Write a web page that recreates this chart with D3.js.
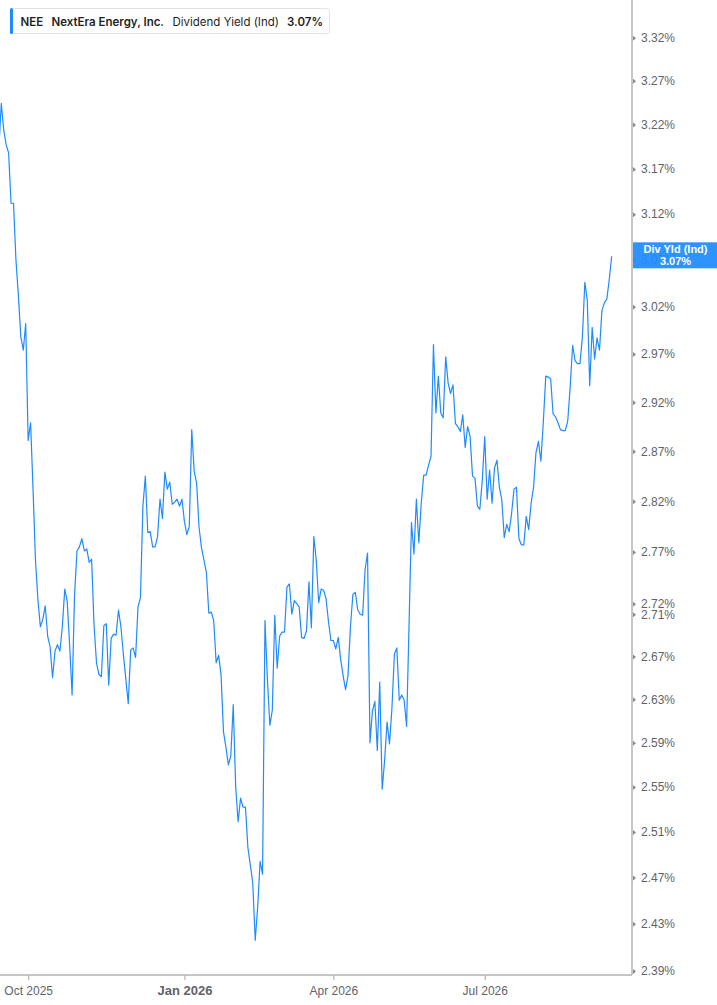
<!DOCTYPE html>
<html>
<head>
<meta charset="utf-8">
<script src="https://cdn.jsdelivr.net/npm/d3@7"></script>
<style>
  html, body { margin: 0; padding: 0; background: #fff; }
  svg { display: block; }
</style>
</head>
<body>
<svg id="chart" width="717" height="1005"></svg>
<script>
// Daily dividend yield (%), one value per trading day, mid-Sep 2025 .. mid-Sep 2026
const yieldValues = [
  3.193,3.244,3.214,3.197,3.188,3.132,3.132,3.070,3.032,2.988,
  2.974,3.002,2.881,2.899,2.832,2.762,2.724,2.698,2.705,2.718,
  2.689,2.679,2.650,2.675,2.681,2.675,2.698,2.734,2.722,2.680,
  2.634,2.728,2.771,2.775,2.783,2.771,2.773,2.760,2.763,2.699,
  2.664,2.653,2.651,2.699,2.701,2.643,2.687,2.691,2.690,2.714,
  2.698,2.672,2.649,2.626,2.676,2.678,2.669,2.717,2.726,2.815,
  2.845,2.789,2.790,2.775,2.775,2.785,2.822,2.803,2.849,2.832,
  2.839,2.817,2.819,2.822,2.815,2.822,2.800,2.787,2.795,2.892,
  2.850,2.838,2.794,2.774,2.762,2.750,2.711,2.712,2.704,2.664,
  2.671,2.653,2.600,2.586,2.570,2.578,2.625,2.550,2.519,2.540,
  2.532,2.532,2.496,2.481,2.465,2.416,2.444,2.484,2.473,2.704,
  2.648,2.606,2.620,2.709,2.659,2.689,2.693,2.693,2.736,2.739,
  2.710,2.723,2.720,2.717,2.688,2.687,2.694,2.741,2.697,2.785,
  2.762,2.721,2.734,2.733,2.725,2.703,2.685,2.685,2.677,2.688,
  2.667,2.652,2.639,2.652,2.698,2.729,2.731,2.714,2.710,2.709,
  2.753,2.769,2.590,2.619,2.628,2.583,2.646,2.548,2.574,2.609,
  2.589,2.622,2.672,2.678,2.629,2.634,2.629,2.605,2.700,2.799,
  2.768,2.822,2.779,2.818,2.846,2.846,2.856,2.865,2.980,2.909,
  2.947,2.909,2.904,2.967,2.940,2.929,2.938,2.898,2.895,2.890,
  2.907,2.874,2.895,2.885,2.845,2.843,2.815,2.812,2.841,2.885,
  2.822,2.851,2.818,2.853,2.861,2.834,2.821,2.784,2.797,2.790,
  2.808,2.832,2.834,2.783,2.777,2.777,2.805,2.792,2.818,2.834,
  2.869,2.880,2.860,2.900,2.947,2.946,2.944,2.908,2.905,2.899,
  2.892,2.891,2.891,2.901,2.936,2.979,2.963,2.960,2.960,2.988,
  3.046,3.027,2.937,2.998,2.965,2.987,2.974,3.016,3.024,3.028,
  3.049,3.074
];

// Y axis tick values / labels
const yTickValues = [3.32,3.27,3.22,3.17,3.12,3.07,3.02,2.97,2.92,2.87,2.82,2.77,2.72,2.71,2.67,2.63,2.59,2.55,2.51,2.47,2.43,2.39];
const yTickLabels = yTickValues.map(v => v.toFixed(2) + "%");

// X axis ticks: trading-day index of the first session of each month shown
const xTickIndex = [12, 76, 137, 199];
const xTickLabels = ["Oct 2025", "Jan 2026", "Apr 2026", "Jul 2026"];
const xTickBold = [false, true, false, false];

// Legend / last-value label text
const ticker = "NEE";
const company = "NextEra Energy, Inc.";
const metric = "Dividend Yield (Ind)";
const lastLabel = "Div Yld (Ind)";
const lastValueText = "3.07%";

const W = 717, H = 1005;
const plotRight = 632, plotBottom = 975;
const blue = "#1f8bff";
const axisGrey = "#b3b3b3";
const textGrey = "#5f6368";

const svg = d3.select("#chart");
svg.append("rect").attr("width", W).attr("height", H).attr("fill", "#fff");

const x = d3.scaleLinear().domain([0, 251]).range([-1.15, 611.7]);
const y = d3.scaleLog().domain([2.39, 3.32]).range([971, 37.7]);

// Line
const line = d3.line()
  .x((d, i) => x(i))
  .y(d => y(d));

svg.append("path")
  .datum(yieldValues)
  .attr("fill", "none")
  .attr("stroke", blue)
  .attr("stroke-width", 1.2)
  .attr("stroke-linejoin", "round")
  .attr("d", line);

// Right axis
const yAxis = d3.axisRight(y)
  .tickValues(yTickValues)
  .tickFormat((d, i) => yTickLabels[i])
  .tickSize(0)
  .tickPadding(9);

const gy = svg.append("g")
  .attr("transform", `translate(${plotRight},0)`)
  .call(yAxis);
gy.select(".domain").remove();
gy.selectAll(".tick text")
  .attr("fill", textGrey)
  .style("font-family", "'Liberation Sans', Arial, sans-serif")
  .style("font-size", "12px");
gy.selectAll(".tick").append("path")
  .attr("d", "M1,-2.5L4,0L1,2.5Z")
  .attr("fill", "#8a8a8a");

svg.append("line")
  .attr("x1", plotRight).attr("x2", plotRight)
  .attr("y1", 0).attr("y2", plotBottom)
  .attr("stroke", axisGrey).attr("stroke-width", 1.5);

// Bottom axis
const xAxis = d3.axisBottom(x)
  .tickValues(xTickIndex)
  .tickFormat((d, i) => xTickLabels[i])
  .tickSize(5)
  .tickPadding(6);

const gx = svg.append("g")
  .attr("transform", `translate(0,${plotBottom})`)
  .call(xAxis);
gx.select(".domain").remove();
gx.selectAll(".tick line").attr("stroke", axisGrey).attr("stroke-width", 1.2);
gx.selectAll(".tick text")
  .attr("fill", textGrey)
  .style("font-family", "'Liberation Sans', Arial, sans-serif")
  .style("font-size", (d, i) => xTickBold[i] ? "13px" : "12px")
  .style("font-weight", (d, i) => xTickBold[i] ? "bold" : "normal");

svg.append("line")
  .attr("x1", 0).attr("x2", plotRight)
  .attr("y1", plotBottom).attr("y2", plotBottom)
  .attr("stroke", axisGrey).attr("stroke-width", 1.5);

// Last value label
const lastY = y(yieldValues[yieldValues.length - 1]);
const lab = svg.append("g").attr("transform", `translate(${plotRight + 1},${lastY - 14})`);
lab.append("rect")
  .attr("width", W - plotRight - 1).attr("height", 26)
  .attr("fill", blue).attr("opacity", 0.93);
lab.append("text")
  .attr("x", (W - plotRight) / 2).attr("y", 10.5)
  .attr("text-anchor", "middle")
  .attr("fill", "#fff")
  .style("font-family", "'Liberation Sans', Arial, sans-serif")
  .style("font-size", "11px").style("font-weight", "bold")
  .text(lastLabel);
lab.append("text")
  .attr("x", (W - plotRight) / 2).attr("y", 22.5)
  .attr("text-anchor", "middle")
  .attr("fill", "#fff")
  .style("font-family", "'Liberation Sans', Arial, sans-serif")
  .style("font-size", "11px").style("font-weight", "bold")
  .text(lastValueText);

// Legend
const leg = svg.append("g").attr("transform", "translate(10,8)");
leg.append("rect")
  .attr("x", 0.5).attr("y", 0.5)
  .attr("width", 319).attr("height", 25)
  .attr("rx", 3)
  .attr("fill", "#fff").attr("stroke", "#e3e3e3");
leg.append("rect")
  .attr("x", 0).attr("y", 0).attr("width", 3).attr("height", 26)
  .attr("rx", 1.5)
  .attr("fill", blue);
const legText = leg.append("text")
  .attr("y", 17.5)
  .style("font-family", "Inter, 'Liberation Sans', Arial, sans-serif")
  .style("font-size", "11.5px")
  .attr("fill", "#1f1f1f");
legText.append("tspan").attr("x", 10.5).style("font-weight", 600).text(ticker);
legText.append("tspan").attr("x", 41.5).style("font-weight", 600).text(company);
legText.append("tspan").attr("x", 162.5).style("font-weight", 400).text(metric);
legText.append("tspan").attr("x", 277).style("font-weight", 600).text(lastValueText);
</script>
</body>
</html>
